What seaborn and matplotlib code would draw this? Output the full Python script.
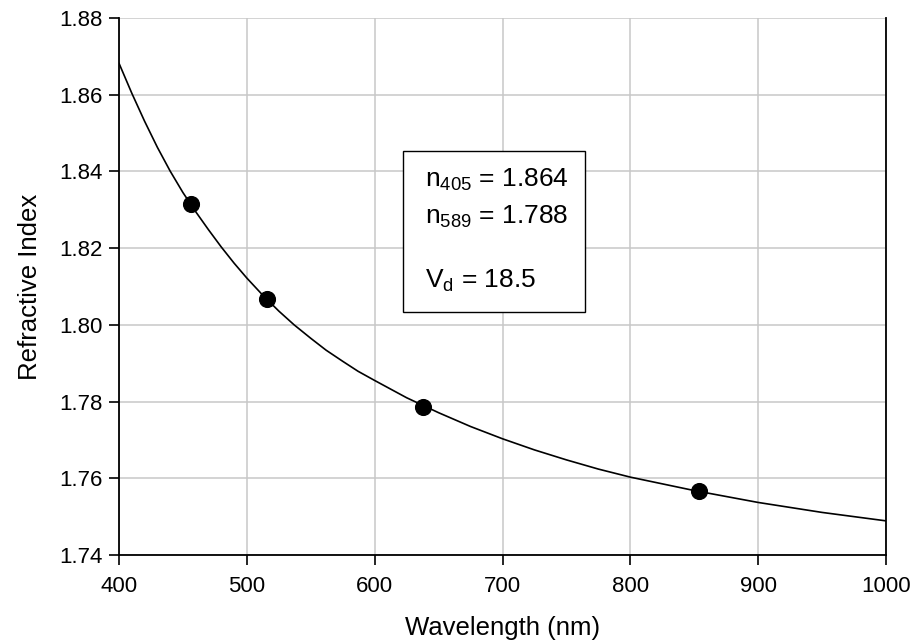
import matplotlib
matplotlib.use("Agg")
import matplotlib.pyplot as plt
import seaborn as sns
import pandas as pd
from matplotlib.patches import Rectangle

# measured points
wl_meas = [456.5, 515.5, 637.5, 853.5]
n_meas = [1.8316, 1.8068, 1.7787, 1.7566]

# fitted dispersion curve
wl_fit = [400, 410, 420, 430, 440, 450, 460, 470, 480, 490, 500, 512, 525,
          537, 550, 562, 575, 587, 600, 625, 650, 675, 700, 725, 750, 775,
          800, 850, 900, 950, 1000]
n_fit = [1.8682, 1.8604, 1.8531, 1.8463, 1.8401, 1.8345, 1.8295, 1.8248,
         1.8203, 1.8161, 1.8122, 1.8079, 1.8036, 1.8000, 1.7965, 1.7934,
         1.7905, 1.7879, 1.7855, 1.7810, 1.7771, 1.7735, 1.7703, 1.7674,
         1.7648, 1.7624, 1.7603, 1.7568, 1.7537, 1.7511, 1.7489]

x_ticks = [400, 500, 600, 700, 800, 900, 1000]
y_ticks = [1.74, 1.76, 1.78, 1.80, 1.82, 1.84, 1.86, 1.88]

box_lines = ["n$_{405}$ = 1.864", "n$_{589}$ = 1.788", "V$_{d}$ = 18.5"]

sns.set_theme(style="whitegrid")
plt.rcParams['font.family'] = ['Liberation Sans', 'DejaVu Sans']
plt.rcParams['mathtext.default'] = 'regular'
plt.rcParams['text.color'] = 'black'
plt.rcParams['axes.labelcolor'] = 'black'

fig = plt.figure(figsize=(9.24, 6.44), dpi=100)
ax = fig.add_axes([0.1288, 0.1382, 0.8301, 0.8338])

fit_df = pd.DataFrame({'wl': wl_fit, 'n': n_fit})
meas_df = pd.DataFrame({'wl': wl_meas, 'n': n_meas})

sns.lineplot(data=fit_df, x='wl', y='n', color='black', linewidth=1.2, ax=ax)
sns.scatterplot(data=meas_df, x='wl', y='n', color='black', s=130,
                edgecolor='black', zorder=5, ax=ax)

ax.set_xlim(400, 1000)
ax.set_ylim(1.74, 1.88)
ax.set_xticks(x_ticks)
ax.set_yticks(y_ticks)
ax.set_yticklabels([f"{v:.2f}" for v in y_ticks])
ax.grid(True, color='#c8c8c8', linewidth=1.1)
ax.set_facecolor('white')

for side in ['left', 'bottom', 'right']:
    ax.spines[side].set_visible(True)
    ax.spines[side].set_color('black')
    ax.spines[side].set_linewidth(1.3)
ax.spines['top'].set_visible(False)

ax.tick_params(axis='both', which='major', direction='out', length=7,
               width=1.2, color='black', labelsize=16, labelcolor='black',
               bottom=True, left=True)
ax.tick_params(axis='x', pad=8)
ax.tick_params(axis='y', pad=5)

ax.set_xlabel("Wavelength (nm)", fontsize=18.5, labelpad=14)
ax.set_ylabel("Refractive Index", fontsize=18.5, labelpad=12)

# annotation box
ax.add_patch(Rectangle((0.370, 0.4525), 0.2376, 0.2998, transform=ax.transAxes,
                       facecolor='white', edgecolor='black', linewidth=1.0,
                       zorder=6))
for txt, yy in zip(box_lines, [0.685, 0.616, 0.497]):
    ax.text(0.399, yy, txt, transform=ax.transAxes, fontsize=19,
            va='baseline', ha='left', zorder=7)

fig.savefig("out.png", dpi=100)
